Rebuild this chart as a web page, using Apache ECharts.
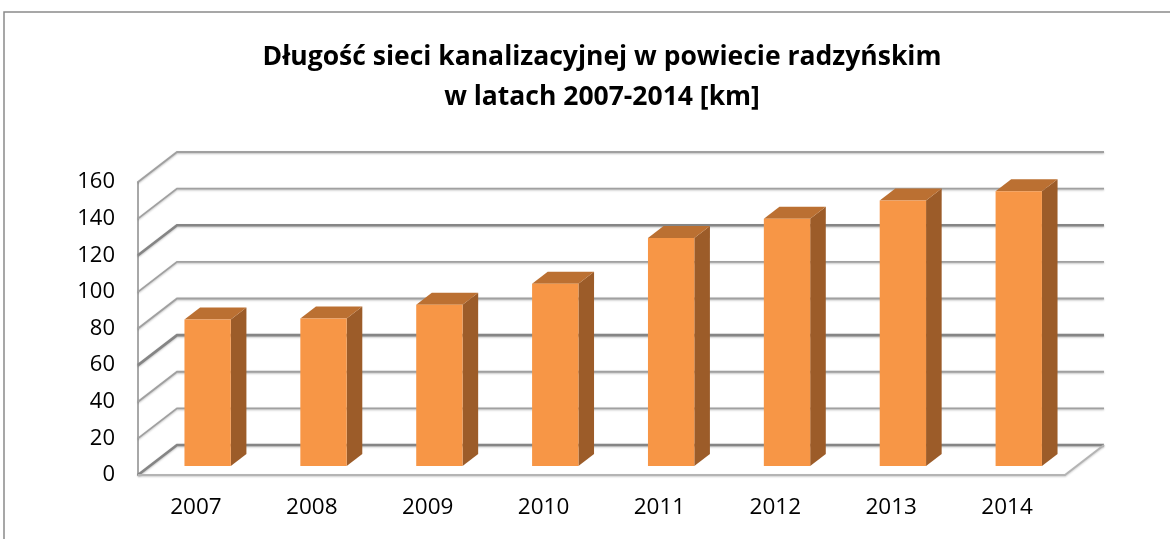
<!DOCTYPE html>
<html>
<head>
<meta charset="utf-8">
<title>Długość sieci kanalizacyjnej</title>
<script src="https://cdn.jsdelivr.net/npm/echarts@6/dist/echarts.min.js"></script>
<style>
  html, body { margin: 0; padding: 0; background: #fff; }
  #chart { width: 1170px; height: 539px; }
</style>
</head>
<body>
<div id="chart"></div>
<script>
const years = ['2007', '2008', '2009', '2010', '2011', '2012', '2013', '2014']
const lengthKm = [80, 80.5, 88, 99.5, 124.5, 135, 145, 150]
const yTicks = [0, 20, 40, 60, 80, 100, 120, 140, 160]

// pseudo-3d depth offset of the back wall (px)
const DX = 39
const DY = 30
const FONT = '"Open Sans", "Liberation Sans", sans-serif'

const chart = echarts.init(document.getElementById('chart'))

const renderGrid = (params, api) => {
  const cs = params.coordSys
  const v = api.value(1)
  const y = api.coord([0, v])[1]
  const x0 = cs.x
  const x1 = cs.x + cs.width
  const heavy = v % 60 === 0
  const children = [{
    type: 'polyline',
    shape: { points: [[x0, y], [x0 + DX, y - DY], [x1 + DX, y - DY]] },
    style: {
      fill: null,
      stroke: heavy ? '#858585' : '#a0a0a0',
      lineWidth: heavy ? 2.6 : 1.8,
      shadowColor: 'rgba(0,0,0,0.25)',
      shadowBlur: 2,
      shadowOffsetY: 1
    }
  }]
  if (v === 0) {
    children.push({
      type: 'polyline',
      shape: { points: [[x0, y], [x1, y], [x1 + DX, y - DY]] },
      style: { fill: null, stroke: '#b4b4b4', lineWidth: 2, shadowColor: 'rgba(0,0,0,0.2)', shadowBlur: 2, shadowOffsetY: 1 }
    })
  }
  return { type: 'group', children }
}

const renderBar = (params, api) => {
  const i = api.value(0)
  const v = api.value(1)
  const base = api.coord([i, 0])
  const top = api.coord([i, v])
  const band = api.size([1, 0])[0]
  const hw = band * 0.2
  const fx = 0.3 * DX, fy = 0.3 * DY
  const bx = 0.7 * DX, by = 0.7 * DY
  const xl = base[0] - hw, xr = base[0] + hw
  const yb = base[1], yt = top[1]
  return {
    type: 'group',
    children: [
      {
        type: 'polygon',
        shape: { points: [[xr + fx, yb - fy], [xr + bx, yb - by], [xr + bx, yt - by], [xr + fx, yt - fy]] },
        style: { fill: '#9c5c29' }
      },
      {
        type: 'polygon',
        shape: { points: [[xl + fx, yt - fy], [xl + bx, yt - by], [xr + bx, yt - by], [xr + fx, yt - fy]] },
        style: { fill: '#bb7032' }
      },
      {
        type: 'rect',
        shape: { x: xl + fx, y: yt - fy, width: 2 * hw, height: yb - yt },
        style: { fill: '#f79646' }
      }
    ]
  }
}

const option = {
  animation: false,
  backgroundColor: '#fff',
  title: {
    text: 'Długość sieci kanalizacyjnej w powiecie radzyńskim\nw latach 2007-2014 [km]',
    left: 597,
    top: 32,
    textAlign: 'center',
    textStyle: {
      fontFamily: FONT,
      fontSize: 26.5,
      fontWeight: 'bold',
      color: '#000',
      lineHeight: 40
    }
  },
  graphic: [{
    type: 'rect',
    shape: { x: 4, y: 12, width: 1200, height: 600 },
    style: { fill: null, stroke: '#8a8a8a', lineWidth: 1.5 },
    silent: true
  }],
  grid: { left: 138, top: 182, width: 927, height: 293 },
  xAxis: {
    type: 'category',
    data: years,
    axisTick: { show: false },
    axisLine: { show: false },
    axisLabel: { fontFamily: FONT, fontSize: 22.5, color: '#000', margin: 21 }
  },
  yAxis: {
    type: 'value',
    min: 0,
    max: 160,
    interval: 20,
    splitLine: { show: false },
    axisTick: { show: false },
    axisLine: { show: true, lineStyle: { color: '#a8a8a8', width: 2 } },
    axisLabel: { fontFamily: FONT, fontSize: 22, color: '#000', margin: 23 }
  },
  series: [
    {
      type: 'custom',
      clip: false,
      silent: true,
      z: 1,
      renderItem: renderGrid,
      data: yTicks.map(v => [0, v])
    },
    {
      type: 'custom',
      clip: false,
      z: 3,
      renderItem: renderBar,
      data: lengthKm.map((v, i) => [i, v])
    }
  ]
}

chart.setOption(option)
window.addEventListener('resize', () => chart.resize())
</script>
</body>
</html>
